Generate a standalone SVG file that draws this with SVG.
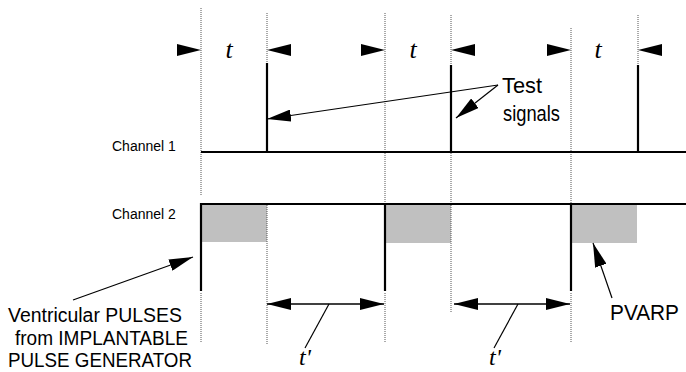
<svg xmlns="http://www.w3.org/2000/svg" width="686" height="372" viewBox="0 0 686 372">
  <style>
    .dot { stroke: #555; stroke-width: 1; stroke-dasharray: 1 1; fill: none; }
    .sig { stroke: #000; stroke-width: 2.2; fill: none; }
    .lead { stroke: #000; stroke-width: 1.2; fill: none; marker-end: url(#ah); }
    .dbl { stroke: #000; stroke-width: 1.4; fill: none; marker-start: url(#ah); marker-end: url(#ah); }
    .tick { stroke: #000; stroke-width: 1.2; fill: none; }
    .head { fill: #000; }
    .refr { fill: #c0c0c0; }
    .lbl { font-family: "Liberation Sans", Arial, sans-serif; font-size: 22px; fill: #000; }
    .note { font-family: "Liberation Sans", Arial, sans-serif; font-size: 20px; fill: #000; }
    .ch { font-family: "Liberation Sans", Arial, sans-serif; font-size: 14px; fill: #000; }
    .var { font-family: "Liberation Serif", "Times New Roman", serif; font-style: italic; font-size: 26px; fill: #000; text-anchor: middle; }
    .varp { font-family: "Liberation Serif", "Times New Roman", serif; font-style: italic; font-size: 24px; fill: #000; text-anchor: middle; }
  </style>
  <defs>
    <marker id="ah" viewBox="0 0 24 12" refX="24" refY="6" markerWidth="24" markerHeight="12" markerUnits="userSpaceOnUse" orient="auto-start-reverse">
      <path d="M0,0 L24,6 L0,12 z" fill="#000"/>
    </marker>
  </defs>

  <rect width="686" height="372" fill="#fff"/>

  <!-- refractory (PVARP) windows -->
  <g id="pvarp-windows">
    <rect class="refr" x="202" y="205" width="65" height="37"/>
    <rect class="refr" x="386" y="205" width="65" height="38"/>
    <rect class="refr" x="572" y="205" width="65" height="38"/>
  </g>

  <!-- timing guides -->
  <g id="guides">
    <line class="dot" x1="201" y1="8" x2="201" y2="196"/>
    <line class="dot" x1="201" y1="293" x2="201" y2="342"/>
    <line class="dot" x1="267" y1="13" x2="267" y2="63"/>
    <line class="dot" x1="267" y1="205" x2="267" y2="345"/>
    <line class="dot" x1="385" y1="13" x2="385" y2="204"/>
    <line class="dot" x1="385" y1="293" x2="385" y2="342"/>
    <line class="dot" x1="451" y1="15" x2="451" y2="65"/>
    <line class="dot" x1="451" y1="153" x2="451" y2="313"/>
    <line class="dot" x1="571" y1="28" x2="571" y2="204"/>
    <line class="dot" x1="571" y1="293" x2="571" y2="342"/>
    <line class="dot" x1="638" y1="15" x2="638" y2="65"/>
  </g>

  <!-- channel 1: test signals -->
  <g id="channel1">
    <text class="ch" x="112" y="151">Channel 1</text>
    <line class="sig" x1="201" y1="152" x2="686" y2="152"/>
    <line class="sig" x1="267" y1="63" x2="267" y2="152"/>
    <line class="sig" x1="451" y1="65" x2="451" y2="152"/>
    <line class="sig" x1="638" y1="65" x2="638" y2="152"/>
  </g>

  <!-- channel 2: ventricular pulses -->
  <g id="channel2">
    <text class="ch" x="112" y="219">Channel 2</text>
    <path class="sig" d="M201,291 V204 H686"/>
    <line class="sig" x1="385" y1="204" x2="385" y2="291"/>
    <line class="sig" x1="571" y1="204" x2="571" y2="291"/>
  </g>

  <!-- interval t markers -->
  <g id="interval-t">
    <polygon class="head" points="177,44 201,50 177,56"/>
    <polygon class="head" points="267,50 291,44 291,56"/>
    <polygon class="head" points="361,44 385,50 361,56"/>
    <polygon class="head" points="451,50 475,44 475,56"/>
    <polygon class="head" points="547,44 571,50 547,56"/>
    <polygon class="head" points="638,50 662,44 662,56"/>
    <text class="var" x="229" y="58">t</text>
    <text class="var" x="413" y="58">t</text>
    <text class="var" x="598" y="58">t</text>
  </g>

  <g id="test-signals-label">
    <text class="lbl" x="502" y="93" textLength="40" lengthAdjust="spacingAndGlyphs">Test</text>
    <text class="lbl" x="503" y="121" textLength="57" lengthAdjust="spacingAndGlyphs">signals</text>
  </g>

  <g id="pulses-label">
    <text class="note" x="8" y="322" textLength="174" lengthAdjust="spacingAndGlyphs">Ventricular PULSES</text>
    <text class="note" x="15" y="345" textLength="173" lengthAdjust="spacingAndGlyphs">from IMPLANTABLE</text>
    <text class="note" x="8" y="367" textLength="184" lengthAdjust="spacingAndGlyphs">PULSE GENERATOR</text>
  </g>

  <g id="pvarp-label">
    <text class="lbl" x="610" y="320" textLength="69" lengthAdjust="spacingAndGlyphs">PVARP</text>
  </g>

  <g id="interval-t-prime">
    <text class="varp" x="305" y="365">t'</text>
    <text class="varp" x="495" y="365">t'</text>
  </g>

  <!-- connectors -->
  <g id="connectors">
    <line class="lead" x1="498" y1="85" x2="267" y2="119"/>
    <line class="lead" x1="498" y1="85" x2="456" y2="118"/>
    <line class="lead" x1="73" y1="300" x2="193" y2="257"/>
    <line class="lead" x1="612" y1="298" x2="593" y2="243"/>
    <line class="dbl" x1="267" y1="304" x2="384" y2="304"/>
    <line class="dbl" x1="454" y1="304" x2="570" y2="304"/>
    <line class="tick" x1="329" y1="304" x2="305" y2="348"/>
    <line class="tick" x1="518" y1="304" x2="494" y2="348"/>
  </g>
</svg>
